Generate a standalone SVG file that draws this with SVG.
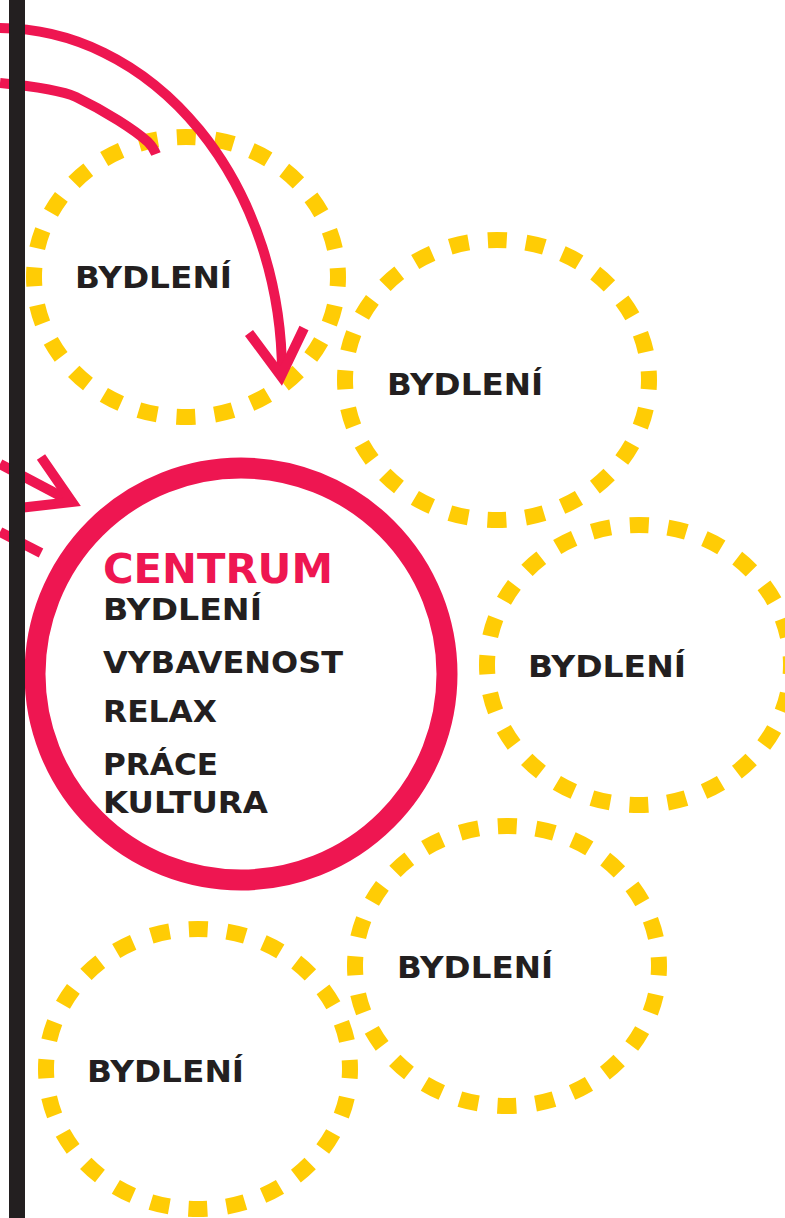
<svg xmlns="http://www.w3.org/2000/svg" width="785" height="1218" viewBox="0 0 785 1218">
<style>
.ring{fill:none;stroke:#ffcc05;stroke-width:16;stroke-dasharray:19 19.24;stroke-dashoffset:9.5}
.lbl{font-family:"DejaVu Sans","Liberation Sans",sans-serif;font-weight:bold;font-size:30px;fill:#231f20}
.arr{fill:none;stroke:#ee1651;stroke-width:10}
</style>
<rect width="785" height="1218" fill="#ffffff"/>
<g id="n1"><ellipse class="ring" cx="186" cy="277" rx="152" ry="140"/><text class="lbl" x="75" y="288" textLength="157" lengthAdjust="spacingAndGlyphs">BYDLENÍ</text></g>
<g id="n2"><ellipse class="ring" cx="497" cy="380" rx="152" ry="140"/><text class="lbl" x="387" y="395" textLength="156" lengthAdjust="spacingAndGlyphs">BYDLENÍ</text></g>
<g id="n3"><ellipse class="ring" cx="639" cy="665" rx="152" ry="140"/><text class="lbl" x="528" y="677" textLength="158" lengthAdjust="spacingAndGlyphs">BYDLENÍ</text></g>
<g id="n4"><ellipse class="ring" cx="507" cy="966" rx="152" ry="140"/><text class="lbl" x="397" y="978" textLength="156" lengthAdjust="spacingAndGlyphs">BYDLENÍ</text></g>
<g id="n5"><ellipse class="ring" cx="198" cy="1069" rx="152" ry="140"/><text class="lbl" x="87" y="1082" textLength="157" lengthAdjust="spacingAndGlyphs">BYDLENÍ</text></g>
<g id="centrum">
<circle cx="241" cy="674" r="206" fill="none" stroke="#ee1651" stroke-width="21"/>
<text x="103" y="583" font-family="DejaVu Sans, Liberation Sans, sans-serif" font-weight="bold" font-size="41" fill="#ee1651" textLength="230" lengthAdjust="spacingAndGlyphs">CENTRUM</text>
<text class="lbl" x="103" y="620" textLength="159" lengthAdjust="spacingAndGlyphs">BYDLENÍ</text>
<text class="lbl" x="103" y="673" textLength="240" lengthAdjust="spacingAndGlyphs">VYBAVENOST</text>
<text class="lbl" x="103" y="722" textLength="114" lengthAdjust="spacingAndGlyphs">RELAX</text>
<text class="lbl" x="103" y="775" textLength="115" lengthAdjust="spacingAndGlyphs">PRÁCE</text>
<text class="lbl" x="103" y="813" textLength="165" lengthAdjust="spacingAndGlyphs">KULTURA</text>
</g>
<g id="connectors">
<path class="arr" d="M0,28 A283,346 0 0 1 282,374"/>
<path class="arr" d="M249,333 L281,376 L304,328"/>
<path class="arr" d="M0,83 C40,87 63,91 76,97 C105,111 135,130 148,142 C152,146 154,149 156,154"/>
<path class="arr" d="M0,464 L72,502"/>
<path class="arr" d="M41,457 L72,502 L19,508"/>
<path class="arr" d="M0,532 L41,553"/>
</g>
<rect id="bar" x="9" y="0" width="16" height="1218" fill="#231f20"/>
</svg>
